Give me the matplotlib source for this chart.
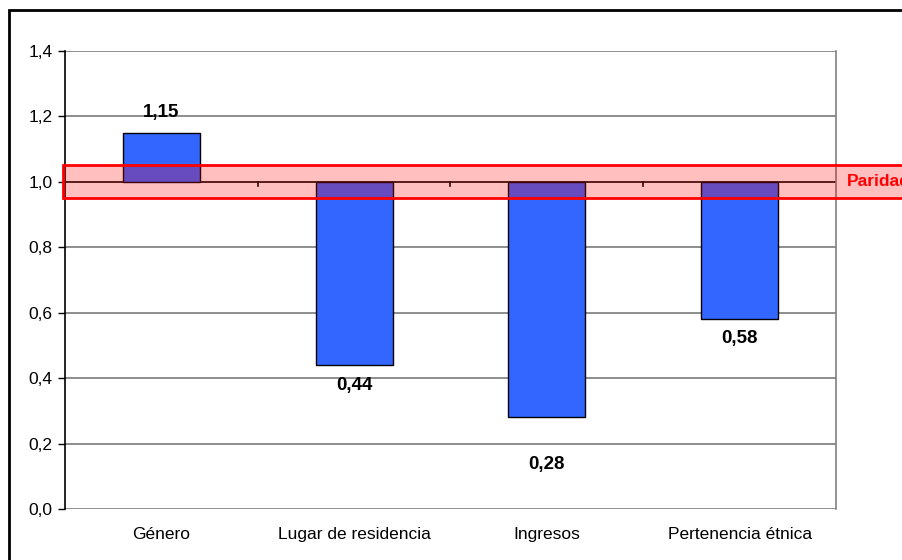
import matplotlib
matplotlib.use("Agg")
import matplotlib.pyplot as plt
from matplotlib.patches import Rectangle

plt.rcParams['font.family'] = ['Liberation Sans', 'DejaVu Sans']

categories = ["Género", "Lugar de residencia", "Ingresos", "Pertenencia étnica"]
values = [1.15, 0.44, 0.28, 0.58]
value_labels = ["1,15", "0,44", "0,28", "0,58"]
label_offsets = [20, -20, -47, -19]  # pixel offset of value labels
y_ticks = [0.0, 0.2, 0.4, 0.6, 0.8, 1.0, 1.2, 1.4]
y_tick_labels = ["0,0", "0,2", "0,4", "0,6", "0,8", "1,0", "1,2", "1,4"]
parity = 1.0
band_low, band_high = 0.95, 1.05
band_label = "Paridad"

W, H = 902, 560
fig = plt.figure(figsize=(W / 100, H / 100), dpi=100)
ax = fig.add_axes([65 / W, 1 - 509 / H, (836 - 65) / W, (509 - 51) / H])

x = list(range(len(categories)))
heights = [v - parity for v in values]
ax.bar(x, heights, bottom=parity, width=0.4, color="#3366FF",
       edgecolor="black", linewidth=1.0, zorder=3)

for xi, v, lab, off in zip(x, values, value_labels, label_offsets):
    ax.annotate(lab, (xi, v), xytext=(0, off), textcoords="offset pixels",
                ha="center", va="center", fontsize=13.5, fontweight="bold",
                color="black", zorder=6)

ax.set_xlim(-0.5, len(categories) - 0.5)
ax.set_ylim(0, 1.4)
ax.set_yticks(y_ticks)
ax.set_yticklabels(y_tick_labels, fontsize=12.5)
ax.set_xticks(x)
ax.set_xticklabels(categories, fontsize=12.5)
ax.tick_params(axis="x", length=0, pad=13)
ax.tick_params(axis="y", length=5, width=1, color="black", direction="out", pad=4)

for yv in y_ticks:
    if yv == parity:
        continue
    ax.axhline(yv, color="#7a7a7a", linewidth=1.2, zorder=1)

# category axis crossing at parity, with ticks between categories
ax.axhline(parity, color="black", linewidth=1.2, zorder=2)
for b in [0.5, 1.5, 2.5]:
    ax.plot([b, b], [parity, parity - 0.012], color="black", linewidth=1.2, zorder=2)

for side in ["top", "bottom"]:
    ax.spines[side].set_visible(False)
ax.spines["right"].set_color("#808080")
ax.spines["right"].set_linewidth(1.2)
ax.spines["left"].set_color("black")
ax.spines["left"].set_linewidth(1.2)

# parity band spanning past the plot area
trans = ax.get_yaxis_transform()
band = Rectangle((-0.002, band_low), 2.0, band_high - band_low, transform=trans,
                 facecolor=(1, 0, 0, 0.25), edgecolor="red", linewidth=2,
                 clip_on=False, zorder=5)
ax.add_patch(band)
ax.text(1.0 + (847 - 836) / (836 - 65), parity, band_label, transform=trans,
        color="red", fontsize=12.5, fontweight="bold", ha="left", va="center",
        clip_on=False, zorder=6)

# outer chart frame
frame = Rectangle((9 / W, -0.1), 1.2, 1 - 10 / H + 0.1, transform=fig.transFigure,
                  facecolor="none", edgecolor="black", linewidth=2, zorder=10)
fig.patches.append(frame)

fig.savefig("out.png", dpi=100)
